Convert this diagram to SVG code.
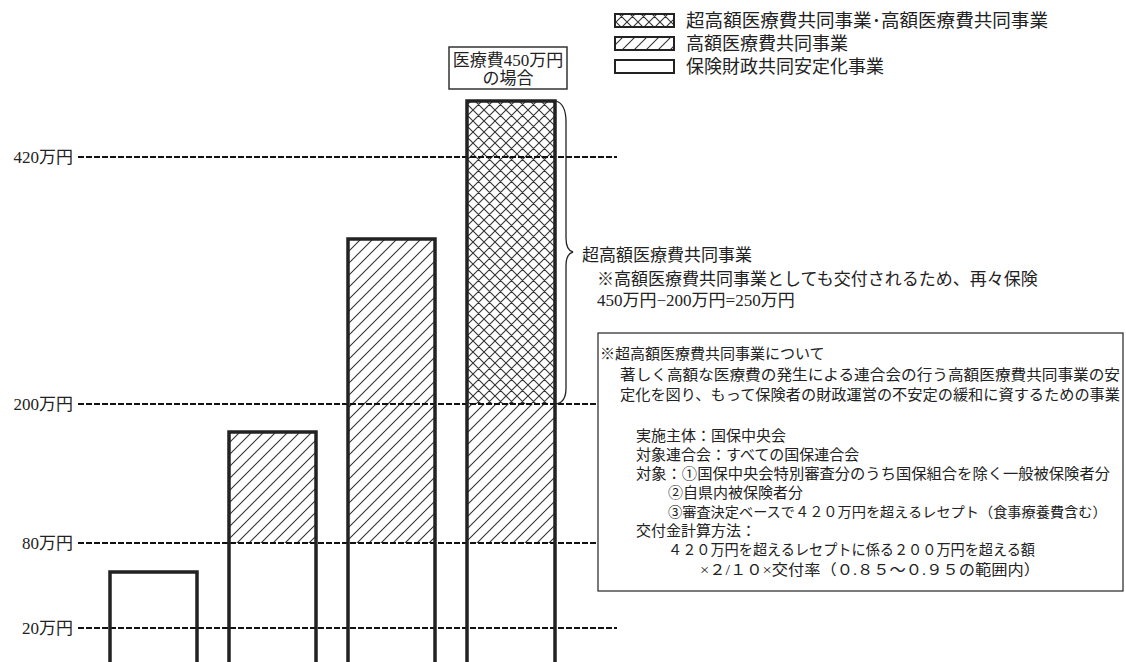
<svg xmlns="http://www.w3.org/2000/svg" width="1126" height="662" viewBox="0 0 1126 662">
<defs>
<style>
text{font-family:"Liberation Serif","Noto Sans CJK JP",serif;fill:#222}
.ax{font-size:17px;text-anchor:end}
.lg{font-size:18px}
.mt{font-size:17px}
.bt{font-size:15px}
.dash{stroke:#111;stroke-width:1.9;stroke-dasharray:6 2;fill:none}
.bar{fill:none;stroke:#222;stroke-width:3.5}
.icon{stroke:#222;stroke-width:2}
</style>
<pattern id="hatch" patternUnits="userSpaceOnUse" width="12" height="12">
<path d="M-3,3 L3,-3 M0,12 L12,0 M9,15 L15,9" stroke="#333" stroke-width="1.1"/>
</pattern>
<pattern id="cross" patternUnits="userSpaceOnUse" width="11" height="11">
<path d="M0,11 L11,0 M-2,2 L2,-2 M9,13 L13,9 M0,0 L11,11 M-2,9 L2,13 M9,-2 L13,2" stroke="#333" stroke-width="1.1"/>
</pattern>
</defs>
<rect width="1126" height="662" fill="#fff"/>

<g id="legend">
<rect class="icon" x="615" y="14" width="59" height="13" fill="url(#cross)"/>
<text class="lg" x="686" y="27" textLength="362" lengthAdjust="spacingAndGlyphs">超高額医療費共同事業･高額医療費共同事業</text>
<rect class="icon" x="615" y="37" width="59" height="13" fill="url(#hatch)"/>
<text class="lg" x="686" y="50">高額医療費共同事業</text>
<rect class="icon" x="615" y="60" width="59" height="13" fill="#fff"/>
<text class="lg" x="686" y="73">保険財政共同安定化事業</text>
</g>

<g id="fills">
<rect x="229" y="432" width="87" height="111" fill="url(#hatch)"/>
<rect x="348" y="239" width="87" height="304" fill="url(#hatch)"/>
<rect x="467" y="101" width="88" height="303" fill="url(#cross)"/>
<rect x="467" y="404" width="88" height="139" fill="url(#hatch)"/>
</g>

<g id="connectors">
<line class="dash" x1="78" y1="157" x2="617" y2="157"/>
<line class="dash" x1="78" y1="404" x2="617" y2="404"/>
<line class="dash" x1="78" y1="543" x2="617" y2="543"/>
<line class="dash" x1="78" y1="628" x2="617" y2="628"/>
<path d="M556,101 C563,103 566,110 566,122 L566,238 C566,247 569,251 573,252 C569,253 566,257 566,266 L566,388 C566,398 563,403 556,404" fill="none" stroke="#222" stroke-width="1.3"/>
</g>

<g id="axis">
<text class="ax" x="73" y="163">420万円</text>
<text class="ax" x="73" y="410">200万円</text>
<text class="ax" x="73" y="549">80万円</text>
<text class="ax" x="73" y="634">20万円</text>
</g>

<g id="bar1"><path class="bar" d="M110,662 V572 H197 V662"/></g>
<g id="bar2"><path class="bar" d="M229,662 V432 H316 V662"/></g>
<g id="bar3"><path class="bar" d="M348,662 V239 H435 V662"/></g>
<g id="bar4"><path class="bar" d="M467,662 V101 H555 V662"/></g>

<g id="label450">
<rect x="449" y="47" width="118" height="42" fill="#fff" stroke="#333" stroke-width="1.5"/>
<text class="mt" x="508" y="66" text-anchor="middle">医療費450万円</text>
<text class="mt" x="508" y="84" text-anchor="middle">の場合</text>
</g>

<g id="braceText">
<text class="mt" x="582" y="261">超高額医療費共同事業</text>
<text class="mt" x="597" y="285">※高額医療費共同事業としても交付されるため、再々保険</text>
<text class="mt" x="597" y="306">450万円−200万円=250万円</text>
</g>

<g id="infobox">
<rect x="598" y="333" width="525" height="258" fill="#fff" stroke="#333" stroke-width="1.3"/>
<text class="bt" x="600" y="359">※超高額医療費共同事業について</text>
<text class="bt" x="620" y="380" textLength="500" lengthAdjust="spacingAndGlyphs">著しく高額な医療費の発生による連合会の行う高額医療費共同事業の安</text>
<text class="bt" x="620" y="400" textLength="500" lengthAdjust="spacingAndGlyphs">定化を図り、もって保険者の財政運営の不安定の緩和に資するための事業</text>
<text class="bt" x="636" y="441">実施主体：国保中央会</text>
<text class="bt" x="636" y="460">対象連合会：すべての国保連合会</text>
<text class="bt" x="636" y="479" textLength="474" lengthAdjust="spacingAndGlyphs">対象：①国保中央会特別審査分のうち国保組合を除く一般被保険者分</text>
<text class="bt" x="668" y="498">②自県内被保険者分</text>
<text class="bt" x="668" y="517" style="font-size:14.2px">③審査決定ベースで４２０万円を超えるレセプト（食事療養費含む）</text>
<text class="bt" x="636" y="536">交付金計算方法：</text>
<text class="bt" x="668" y="555" textLength="367" lengthAdjust="spacingAndGlyphs">４２０万円を超えるレセプトに係る２００万円を超える額</text>
<text class="bt" x="700" y="575" textLength="340" lengthAdjust="spacingAndGlyphs">×２/１０×交付率（０.８５～０.９５の範囲内）</text>
</g>
</svg>
